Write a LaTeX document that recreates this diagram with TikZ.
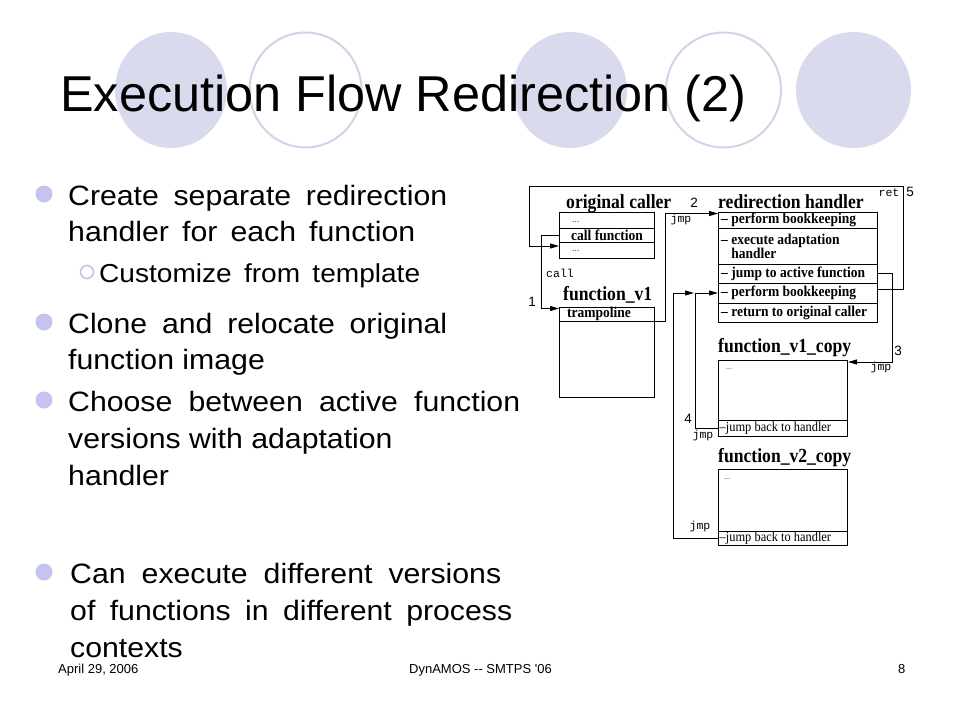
\documentclass[tikz,border=0pt]{standalone}
\usepackage{fontspec}
\setmainfont{Liberation Sans}
\newfontfamily\bulfont[FakeStretch=1.08]{Liberation Sans}
\newfontfamily\sertitle[FakeStretch=0.88]{Liberation Serif}
\newfontfamily\sercell[FakeStretch=0.9]{Liberation Serif}
\newfontfamily\monfont{Liberation Mono}
\newfontfamily\footfont[Ligatures=TeXOff]{Liberation Sans}
\usetikzlibrary{arrows.meta,calc}
\definecolor{ellcol}{RGB}{218,218,238}
\definecolor{ellline}{RGB}{210,210,232}
\definecolor{bulcol}{RGB}{196,196,238}
\tikzset{
  bigtext/.style={anchor=base west, inner sep=0pt, font=\bulfont\fontsize{28pt}{30pt}\selectfont},
  subtext/.style={anchor=base west, inner sep=0pt, font=\bulfont\fontsize{26pt}{29pt}\selectfont},
  bul/.style={fill=bulcol},
  subbul/.style={draw=bulcol, line width=1.6pt},
  cell/.style={draw, line width=0.9pt, anchor=north west, inner sep=0pt, outer sep=0pt},
  celltext/.style={anchor=west, inner sep=0pt, align=left, font=\sercell\bfseries\fontsize{15pt}{14pt}\selectfont},
  jumptext/.style={anchor=west, inner sep=0pt, font=\sercell\fontsize{13.8pt}{14pt}\selectfont},
  dotstext/.style={anchor=base west, inner sep=0pt, text=black!70, font=\sercell\fontsize{11pt}{12pt}\selectfont},
  ftitle/.style={anchor=base west, inner sep=0pt, font=\sertitle\bfseries\fontsize{20pt}{21pt}\selectfont},
  monolab/.style={inner sep=0pt, font=\monfont\fontsize{11.5pt}{12pt}\selectfont},
  numlab/.style={inner sep=0pt, font=\fontsize{13.5pt}{14pt}\selectfont},
  conn/.style={line width=0.9pt},
  arr/.style={conn, -{Triangle[length=9pt,width=5pt]}},
  foot/.style={anchor=base west, inner sep=0pt, font=\footfont\fontsize{13pt}{14pt}\selectfont},
}
\begin{document}
\begin{tikzpicture}[x=1pt,y=-1pt]
\useasboundingbox (0,0) rectangle (960,720);
\fill[white] (0,0) rectangle (960,720);
% decorative ellipses
\fill[ellcol] (171,90) ellipse [x radius=56pt, y radius=58pt];
\draw[ellline, line width=2pt] (305.5,90) ellipse [x radius=56pt, y radius=57.5pt];
\fill[ellcol] (570,90) ellipse [x radius=57pt, y radius=58pt];
\draw[ellline, line width=2pt] (723.5,90) ellipse [x radius=57.5pt, y radius=57.5pt];
\fill[ellcol] (853.5,90) ellipse [x radius=57.5pt, y radius=58pt];
% title
\node[anchor=base west, inner sep=0pt, font=\fontsize{50.4pt}{52pt}\selectfont] (title) at (60,111) {Execution Flow Redirection (2)};
% bullets
\fill[bul] (44,194) circle[radius=8.5pt];
\fill[bul] (44,322) circle[radius=8.5pt];
\fill[bul] (44,400) circle[radius=8.5pt];
\fill[bul] (44,572) circle[radius=8.5pt];
\draw[subbul] (87,272) circle[radius=6.5pt];
\node[bigtext] (l1) at (68,205) {\makebox[379pt][s]{Create separate redirection}};
\node[bigtext] (l2) at (68,241) {\makebox[347pt][s]{handler for each function}};
\node[subtext] (l3) at (99,282) {\makebox[321pt][s]{Customize from template}};
\node[bigtext] (l4) at (68,333) {\makebox[379pt][s]{Clone and relocate original}};
\node[bigtext] (l5) at (68,369) {function image};
\node[bigtext] (l6) at (68,411) {\makebox[452pt][s]{Choose between active function}};
\node[bigtext] (l7) at (68,448) {versions with adaptation};
\node[bigtext] (l8) at (68,485) {handler};
\node[bigtext] (l9) at (70,583) {\makebox[431pt][s]{Can execute different versions}};
\node[bigtext] (l10) at (70,620) {\makebox[442pt][s]{of functions in different process}};
\node[bigtext] (l11) at (70,657) {contexts};
% footer
\node[foot] (fdate) at (58,673) {April 29, 2006};
\node[foot] (fconf) at (409,673) {DynAMOS -{}- SMTPS '06};
\node[foot] (fpage) at (898,673) {8};
% ---------- diagram ----------
% original caller
\node[ftitle] (octitle) at (566,208) {original caller};
\node[cell, minimum width=95pt, minimum height=16pt] (oc1) at (559,212) {};
\node[cell, minimum width=95pt, minimum height=14pt] (oc2) at (559,228) {};
\node[cell, minimum width=95pt, minimum height=16pt] (oc3) at (559,242) {};
\node[dotstext] (oc1t) at (572,222) {...};
\node[celltext] (oc2t) at (571,235) {call function};
\node[dotstext] (oc3t) at (572,251) {...};
% function_v1
\node[ftitle] (fvtitle) at (563,300) {function\_v1};
\node[cell, minimum width=95pt, minimum height=14pt] (fv1t) at (559,307) {};
\node[cell, minimum width=95pt, minimum height=76pt] (fv1b) at (559,321) {};
\node[celltext] (fv1tt) at (567,314) {trampoline};
% redirection handler
\node[ftitle] (rhtitle) at (718,208) {redirection handler};
\node[cell, minimum width=159pt, minimum height=16pt] (rh1) at (718,212) {};
\node[cell, minimum width=159pt, minimum height=36pt] (rh2) at (718,228) {};
\node[cell, minimum width=159pt, minimum height=19pt] (rh3) at (718,264) {};
\node[cell, minimum width=159pt, minimum height=20pt] (rh4) at (718,283) {};
\node[cell, minimum width=159pt, minimum height=19pt] (rh5) at (718,303) {};
\node[celltext] (rh1t) at (721,220) {– perform bookkeeping};
\node[celltext] (rh2t) at (721,246) {– execute adaptation\\\phantom{– }handler};
\node[celltext] (rh3t) at (721,273.5) {– jump to active function};
\node[celltext] (rh4t) at (721,293) {– perform bookkeeping};
\node[celltext] (rh5t) at (721,312.5) {– return to original caller};
% function_v1_copy
\node[ftitle] (c1title) at (718,352) {function\_v1\_copy};
\node[cell, minimum width=129pt, minimum height=60pt] (c1a) at (718,360) {};
\node[cell, minimum width=129pt, minimum height=16pt] (c1r) at (718,420) {};
\node[dotstext, font=\sercell\fontsize{9pt}{10pt}\selectfont] (c1d) at (726,369) {...};
\node[jumptext] (c1rt) at (719.5,428) {–jump back to handler};
% function_v2_copy
\node[ftitle] (c2title) at (718,462) {function\_v2\_copy};
\node[cell, minimum width=129pt, minimum height=62pt] (c2a) at (718,469) {};
\node[cell, minimum width=129pt, minimum height=14pt] (c2r) at (718,531) {};
\node[dotstext, font=\sercell\fontsize{9pt}{10pt}\selectfont] (c2d) at (724,479) {...};
\node[jumptext] (c2rt) at (719.5,538) {–jump back to handler};
% connectors
\coordinate (rettop) at (903,186);
\coordinate (retleft) at (529,186);
\draw[arr] (oc2.west) -- ++(-18,0) |- ($(fv1t.north west)+(0,1.5)$);
\draw[arr] (fv1t.south east) -- ++(11,0) |- ($(rh1.north west)+(0,1.5)$);
\draw[arr] ($(rh4.east)+(0,-4)$) -| (rettop) -- (retleft) |- ($(oc3.west)+(0,-4)$);
\draw[arr] (rh3.east) -- ++(15,0) |- ($(c1a.north east)+(1,2)$);
\draw[arr] (c1r.west) -- ++(-23,0) |- (rh4.west);
\draw[arr] (c2r.west) -- ++(-45,0) |- ($(rh4.west)+(-24,0)$);
% connector labels
\node[numlab] (n1) at (532,302) {1};
\node[monolab] (lcall) at (560,273) {call};
\node[numlab] (n2) at (694,203) {2};
\node[monolab] (ljmp2) at (681,220) {jmp};
\node[monolab] (lret) at (889,193) {ret};
\node[numlab] (n5) at (910,192) {5};
\node[numlab] (n3) at (898,351) {3};
\node[monolab] (ljmp3) at (881,368) {jmp};
\node[numlab] (n4) at (688,419) {4};
\node[monolab] (ljmp4) at (703,436) {jmp};
\node[monolab] (ljmp5) at (700,527) {jmp};
\end{tikzpicture}
\end{document}
